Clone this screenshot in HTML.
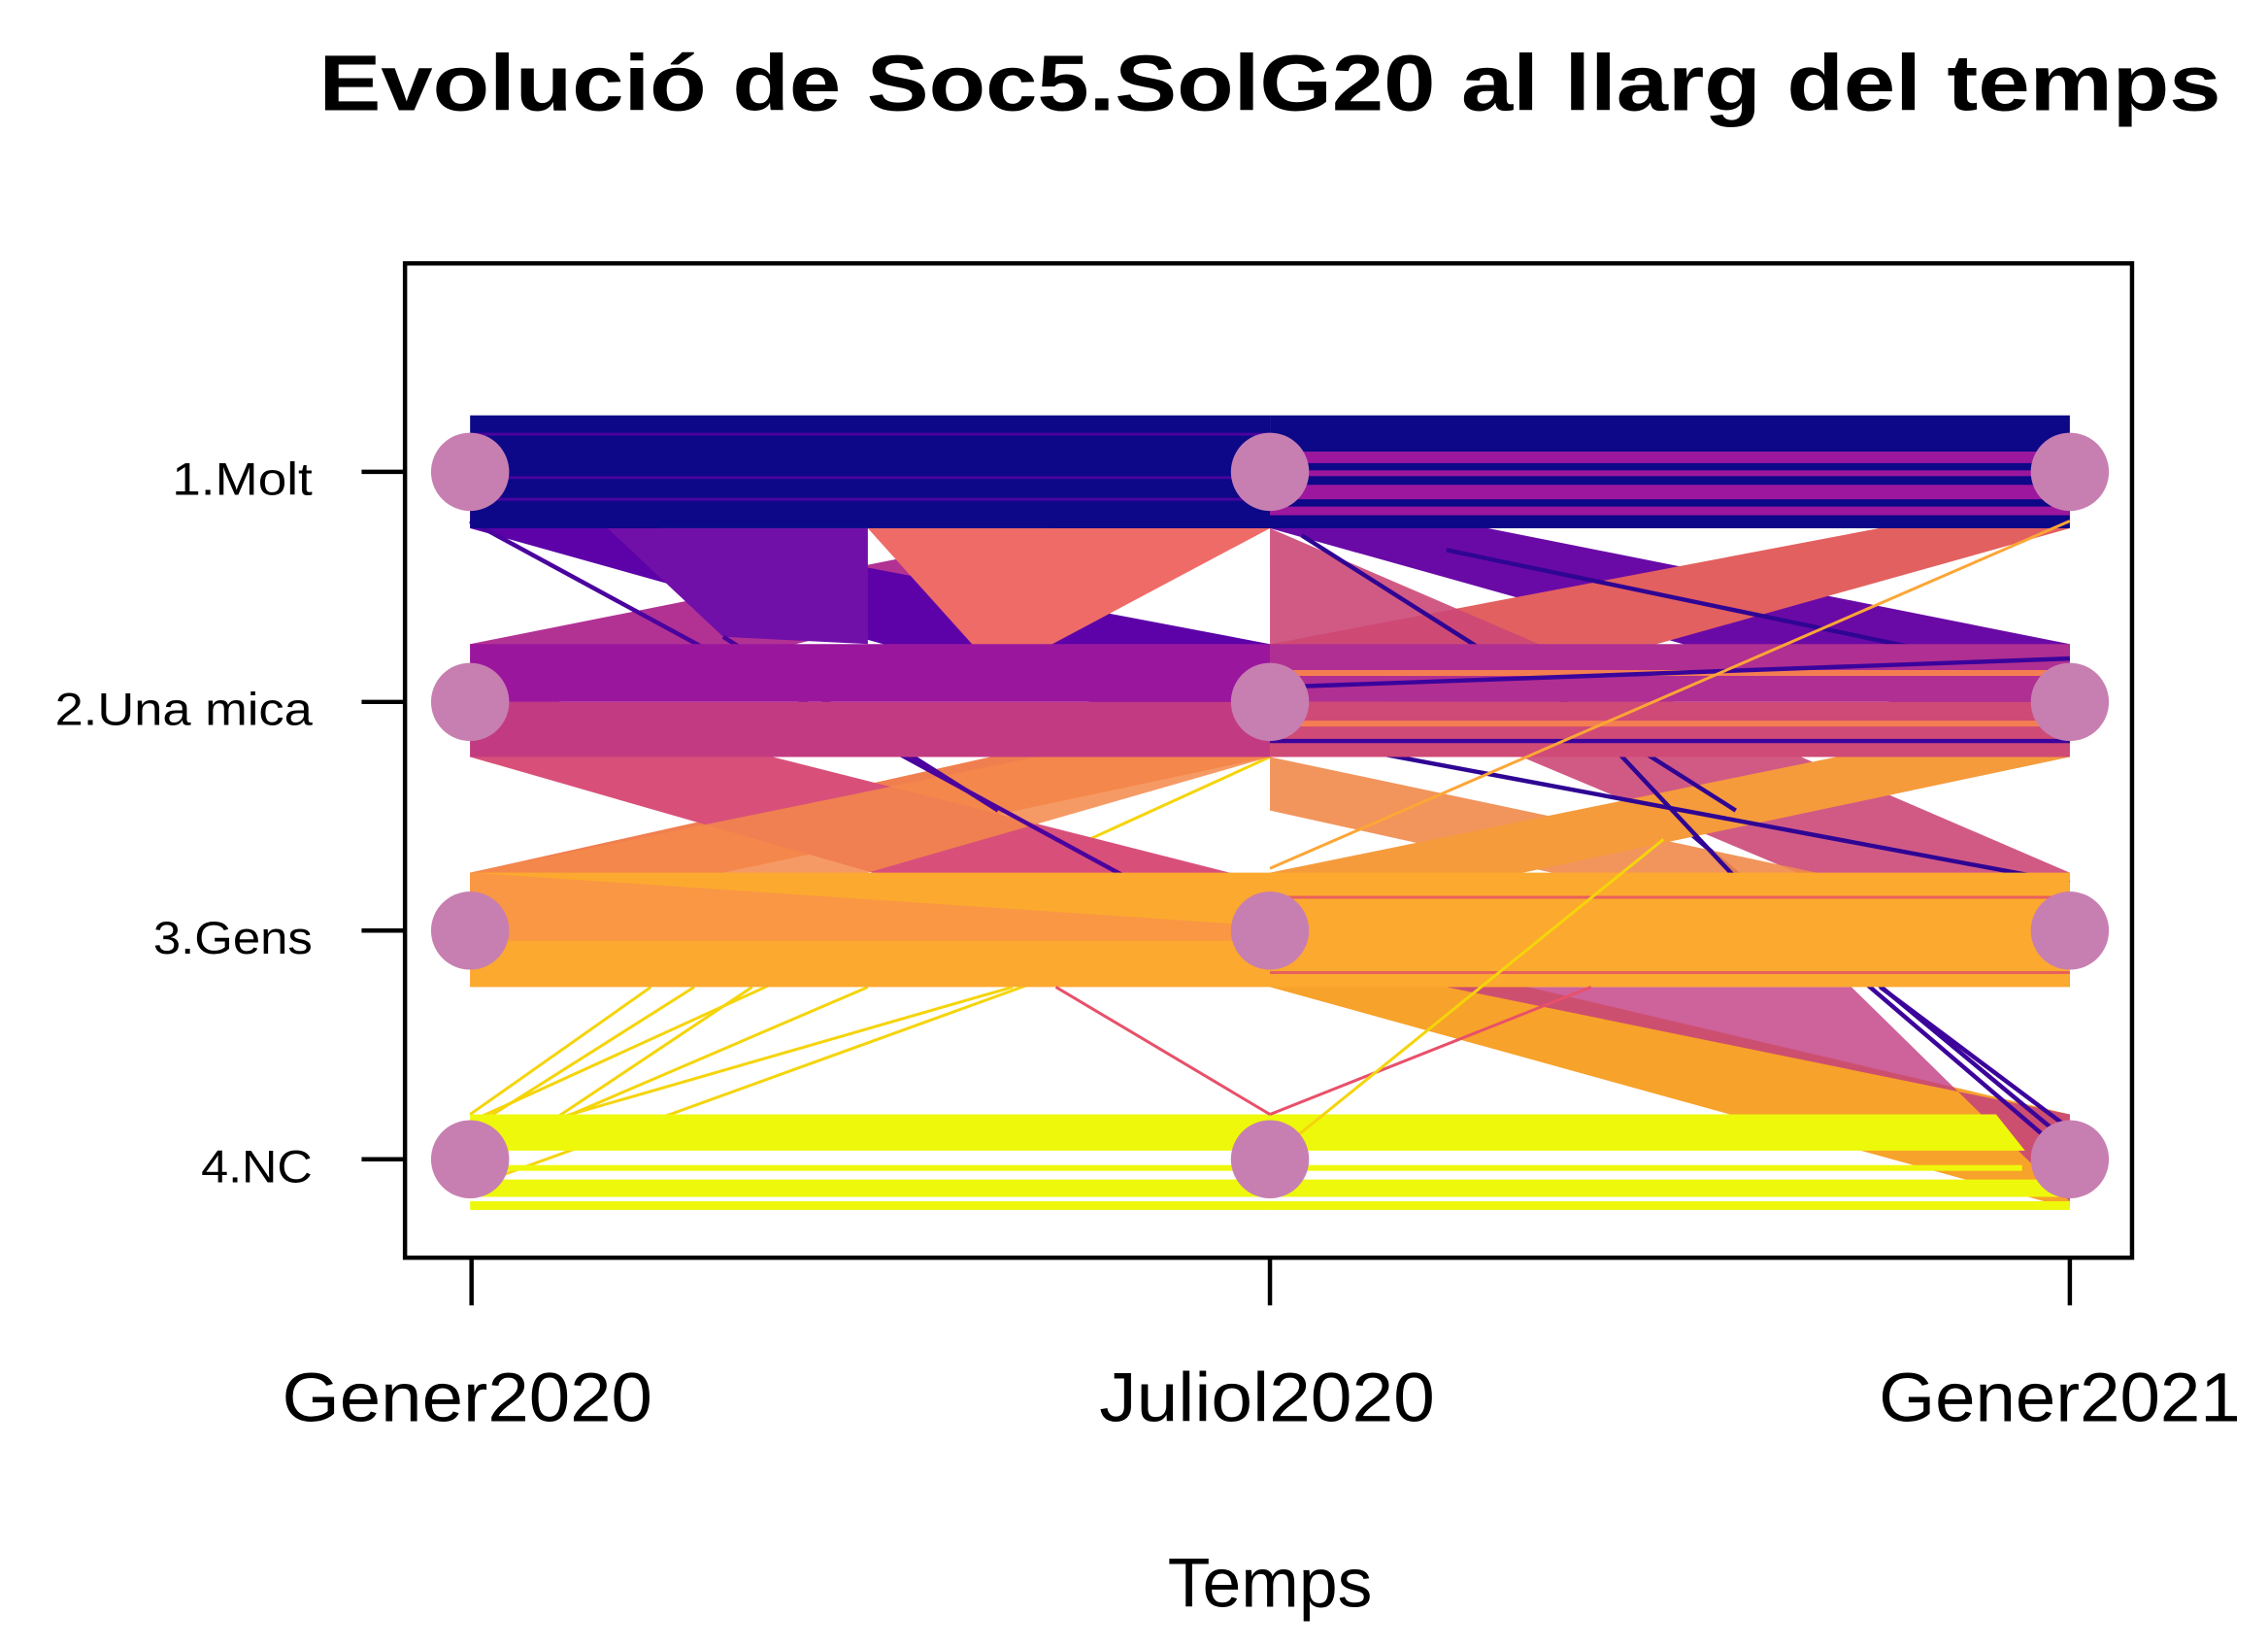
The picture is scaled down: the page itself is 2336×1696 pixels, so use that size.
<!DOCTYPE html>
<html><head><meta charset="utf-8"><style>
html,body{margin:0;padding:0;background:#fff;}
svg{display:block;}
text{font-family:"Liberation Sans",sans-serif;fill:#000;}
</style></head><body>
<svg width="2336" height="1696" viewBox="0 0 1568 1138" preserveAspectRatio="none" xmlns="http://www.w3.org/2000/svg">
<rect width="1568" height="1138" fill="#fff"/>
<text x="878" y="76" font-size="55" font-weight="bold" text-anchor="middle" textLength="1315" lengthAdjust="spacingAndGlyphs">Evolució de  Soc5.SolG20 al llarg del temps</text>

<g stroke="#f5d40a" stroke-width="2">
<line x1="325" y1="775" x2="878" y2="523"/><line x1="325" y1="790" x2="700" y2="682"/>
<line x1="325" y1="800" x2="600" y2="682"/><line x1="325" y1="812" x2="520" y2="682"/>
<line x1="325" y1="780" x2="480" y2="682"/><line x1="325" y1="770" x2="450" y2="682"/>
<line x1="325" y1="820" x2="878" y2="620"/>
</g>
<polygon points="325,603 325,640 878,523 878,480" fill="#f07f4f"/>
<polygon points="325,470 325,523 878,682 878,610" fill="#d8507a"/>
<polygon points="325,603 325,682 878,523 878,490" fill="#f5884a" opacity="0.85"/>
<polygon points="325,445 325,500 878,365 878,335" fill="#b23294"/>
<polygon points="325,340 325,365 878,520 878,445" fill="#5c02a8"/>
<polygon points="600,365 878,365 690,465" fill="#ef6b68"/>
<polygon points="420,365 600,365 600,445 500,440" fill="#7010a8"/>
<g stroke="#4b039e" stroke-width="3"><line x1="325" y1="360" x2="878" y2="660"/><line x1="500" y1="440" x2="690" y2="560"/></g>
<rect x="325" y="287" width="553" height="78" fill="#0d0887"/>
<g stroke="#4a03a0" stroke-width="2"><line x1="325" y1="300" x2="878" y2="300"/><line x1="325" y1="330" x2="878" y2="330"/><line x1="325" y1="345" x2="878" y2="345"/></g>
<polygon points="325,445 878,445 878,485 325,485" fill="#9a179d"/>
<polygon points="325,485 878,485 878,523 325,523" fill="#c23b82"/>
<polygon points="325,603 878,603 878,682 325,682" fill="#fca92f"/>
<polygon points="325,603 325,650 878,650 878,640" fill="#f7924a" opacity="0.8"/>
<rect x="325" y="770" width="553" height="25" fill="#eef80a"/>
<rect x="325" y="805" width="553" height="4" fill="#eef80a"/>
<rect x="325" y="815" width="553" height="12" fill="#eef80a"/>
<rect x="325" y="830" width="553" height="6" fill="#eef80a"/>

<polygon points="878,640 878,682 1431,835 1431,770" fill="#f7a22a"/>
<polygon points="1000,682 1280,682 1431,830 1431,770" fill="#c23b82" opacity="0.8"/>
<g stroke="#3c049b" stroke-width="3"><line x1="1150" y1="560" x2="1431" y2="800"/><line x1="1250" y1="640" x2="1431" y2="790"/><line x1="1300" y1="682" x2="1431" y2="780"/></g>
<polygon points="878,335 878,365 1431,520 1431,445" fill="#6a0aa6"/>
<polygon points="878,445 878,520 1431,365 1431,340" fill="#e2605f"/>
<polygon points="878,365 878,450 1431,682 1431,603" fill="#cc4878" opacity="0.9"/>
<polygon points="878,523 878,560 1431,682 1431,640" fill="#f08a4a" opacity="0.9"/>
<polygon points="878,603 878,640 1431,523 1431,490" fill="#f59b3c"/>
<g stroke="#2f0594" stroke-width="3"><line x1="900" y1="370" x2="1200" y2="560"/><line x1="1000" y1="380" x2="1431" y2="470"/><line x1="950" y1="520" x2="1431" y2="610"/><line x1="1100" y1="500" x2="1250" y2="660"/></g>
<rect x="878" y="287" width="553" height="78" fill="#0d0887"/>
<g fill="#9c179e"><rect x="878" y="312" width="553" height="8"/><rect x="878" y="325" width="553" height="4"/><rect x="878" y="335" width="553" height="10"/><rect x="878" y="350" width="553" height="6"/></g>
<polygon points="878,445 1431,445 1431,485 878,485" fill="#b02f92"/>
<polygon points="878,485 1431,485 1431,523 878,523" fill="#cf4a76"/>
<g stroke="#f47e52" stroke-width="4"><line x1="878" y1="465" x2="1431" y2="465"/><line x1="878" y1="500" x2="1431" y2="500"/></g>
<g stroke="#3a049c" stroke-width="3"><line x1="878" y1="475" x2="1431" y2="455"/><line x1="878" y1="512" x2="1431" y2="512"/></g>
<polygon points="878,603 1431,603 1431,682 878,682" fill="#fca92f"/>
<g stroke="#e8605c" stroke-width="2"><line x1="878" y1="620" x2="1431" y2="620"/><line x1="878" y1="672" x2="1431" y2="672"/></g>
<g stroke="#fca636" stroke-width="2"><line x1="878" y1="600" x2="1431" y2="360"/></g>
<polygon points="878,770 1380,770 1400,795 878,795" fill="#eef80a"/>
<rect x="878" y="805" width="520" height="4" fill="#eef80a"/>
<polygon points="878,815 1431,815 1431,827 878,827" fill="#eef80a"/>
<rect x="878" y="830" width="553" height="6" fill="#eef80a"/>
<g stroke="#e8506a" stroke-width="2"><line x1="878" y1="770" x2="1100" y2="682"/><line x1="730" y1="682" x2="878" y2="770"/></g>
<g stroke="#f5d40a" stroke-width="2"><line x1="878" y1="800" x2="1150" y2="580"/></g>

<g fill="#c77fb1">
<circle cx="325" cy="326" r="27"/><circle cx="325" cy="485" r="27"/><circle cx="325" cy="643" r="27"/><circle cx="325" cy="801" r="27"/>
<circle cx="878" cy="326" r="27"/><circle cx="878" cy="485" r="27"/><circle cx="878" cy="643" r="27"/><circle cx="878" cy="801" r="27"/>
<circle cx="1431" cy="326" r="27"/><circle cx="1431" cy="485" r="27"/><circle cx="1431" cy="643" r="27"/><circle cx="1431" cy="801" r="27"/>
</g>

<rect x="280" y="182" width="1194" height="687" fill="none" stroke="#000" stroke-width="3"/>
<g stroke="#000" stroke-width="3">
<line x1="250" y1="326" x2="280" y2="326"/><line x1="250" y1="485" x2="280" y2="485"/><line x1="250" y1="643" x2="280" y2="643"/><line x1="250" y1="801" x2="280" y2="801"/>
<line x1="326" y1="869" x2="326" y2="902"/><line x1="878" y1="869" x2="878" y2="902"/><line x1="1431" y1="869" x2="1431" y2="902"/>
</g>
<g font-size="32" text-anchor="end">
<text x="216" y="342" textLength="97" lengthAdjust="spacingAndGlyphs">1.Molt</text>
<text x="216" y="501" textLength="178" lengthAdjust="spacingAndGlyphs">2.Una mica</text>
<text x="216" y="659" textLength="110" lengthAdjust="spacingAndGlyphs">3.Gens</text>
<text x="216" y="817" textLength="77" lengthAdjust="spacingAndGlyphs">4.NC</text>
</g>
<g font-size="48" text-anchor="middle">
<text x="323" y="982" textLength="256" lengthAdjust="spacingAndGlyphs">Gener2020</text>
<text x="876" y="982" textLength="232" lengthAdjust="spacingAndGlyphs">Juliol2020</text>
<text x="1424" y="982" textLength="250" lengthAdjust="spacingAndGlyphs">Gener2021</text>
<text x="878" y="1110">Temps</text>
</g>
</svg>
</body></html>
